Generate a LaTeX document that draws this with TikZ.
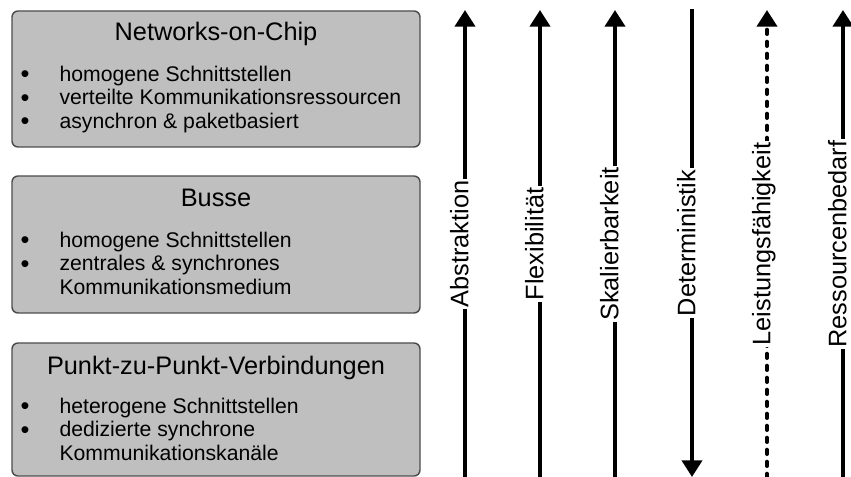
\documentclass[tikz,border=0pt]{standalone}
\usepackage{fontspec}
\setmainfont{Liberation Sans}
\usepackage{tikz}
\usetikzlibrary{arrows.meta,positioning,calc}

\newcommand{\blt}{\raisebox{-1.2pt}{\fontsize{19}{17}\selectfont\textbullet}}

\begin{document}
\begin{tikzpicture}[x=0.75pt,y=-0.75pt]
    \tikzstyle{box}=[draw=black!70,fill=black!25,line width=1.1pt,rounded corners=4.5pt,minimum width=306pt,inner sep=0pt]
    \tikzstyle{title}=[anchor=base,inner sep=0pt,font=\fontsize{19}{22}\selectfont]
    \tikzstyle{items}=[anchor=base west,inner sep=0pt,font=\fontsize{15.9}{17.6}\selectfont]
    \tikzstyle{axis}=[line width=3pt,-{Triangle[width=15pt,length=12.5pt]}]
    \tikzstyle{lbl}=[midway,rotate=90,fill=white,inner xsep=1.2pt,inner ysep=0pt,text height=0.72em,text depth=0.2em,font=\fontsize{19}{22}\selectfont]

    \useasboundingbox (0,0) rectangle (851,477);
    \clip (0,0) rectangle (851,477);

    \node[box,minimum height=102pt] at (216,79) (noc) {};
    \node[box,minimum height=102.75pt] at (216,244.5) (bus) {};
    \node[box,minimum height=99.75pt] at (216,409.5) (p2p) {};

    \node[title] at ($(noc.north)+(0,30)$) (noc-t) {Networks-on-Chip};
    \node[title] at ($(bus.north)+(0,31)$) (bus-t) {Busse};
    \node[title] at ($(p2p.north)+(0,32)$) (p2p-t) {Punkt-zu-Punkt-Verbindungen};

    \node[items] at ($(noc.north west)+(9,71)$) (noc-l) {\begin{tabular}[t]{@{}p{29.25pt}@{}l@{}}
      \blt & homogene Schnittstellen\\
      \blt & verteilte Kommunikationsressourcen\\
      \blt & asynchron \& paketbasiert
    \end{tabular}};
    \node[items] at ($(bus.north west)+(9,72)$) (bus-l) {\begin{tabular}[t]{@{}p{29.25pt}@{}l@{}}
      \blt & homogene Schnittstellen\\
      \blt & zentrales \& synchrones\\
           & Kommunikationsmedium
    \end{tabular}};
    \node[items] at ($(p2p.north west)+(9,71)$) (p2p-l) {\begin{tabular}[t]{@{}p{29.25pt}@{}l@{}}
      \blt & heterogene Schnittstellen\\
      \blt & dedizierte synchrone\\
           & Kommunikationskanäle
    \end{tabular}};

    \foreach \x/\n/\t in {465/abs/Abstraktion,540/flex/Flexibilität,615/skal/Skalierbarkeit,843/res/Ressourcenbedarf} {
      \coordinate (\n-lo) at (\x,478);
      \coordinate (\n-hi) at (\x,10);
      \draw[axis] (\n-lo) -- node[lbl] (\n) {\t} (\n-hi);
    }
    \coordinate (det-hi) at (692,9);
    \coordinate (det-lo) at (692,477);
    \draw[axis] (det-hi) -- node[lbl] (det) {Deterministik} (det-lo);
    \coordinate (leist-lo) at (767,478);
    \coordinate (leist-hi) at (767,10);
    \draw[axis,line cap=round,dash pattern=on 3.2pt off 5.8pt] (leist-lo) -- node[lbl] (leist) {Leistungsfähigkeit} (leist-hi);
\end{tikzpicture}
\end{document}
